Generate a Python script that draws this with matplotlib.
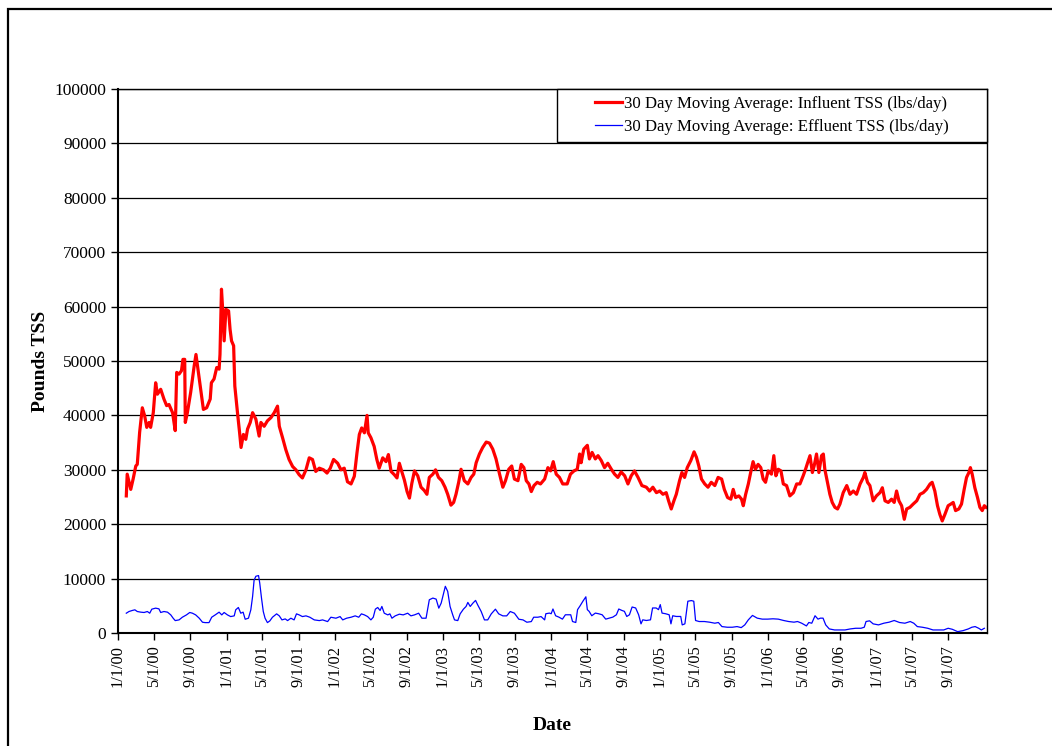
import numpy as np
import pandas as pd
import matplotlib
matplotlib.use("Agg")
import matplotlib.pyplot as plt
from matplotlib.patches import Rectangle

# days after 1/1/00 and 30 day moving averages (lbs/day)
influent_day = [28, 31, 43, 51, 60, 65, 73, 82, 90, 97,
                105, 110, 119, 127, 133, 144, 155, 164, 172, 184,
                193, 198, 206, 214, 219, 225, 227, 234, 245, 257,
                263, 274, 288, 299, 311, 315, 324, 333, 341, 344,
                349, 353, 358, 364, 373, 378, 383, 390, 394, 403,
                410, 415, 423, 431, 437, 446, 454, 465, 476, 482,
                493, 504, 516, 527, 538, 544, 555, 566, 577, 589,
                600, 611, 622, 634, 645, 656, 667, 679, 693, 705,
                716, 727, 741, 752, 763, 774, 786, 797, 806, 814,
                822, 831, 840, 844, 853, 864, 873, 881, 893, 904,
                912, 921, 932, 941, 949, 957, 966, 975, 983, 991,
                1000, 1011, 1022, 1033, 1042, 1050, 1062, 1071, 1081, 1092,
                1103, 1112, 1123, 1132, 1140, 1149, 1157, 1168, 1180, 1191,
                1200, 1208, 1219, 1230, 1242, 1253, 1264, 1275, 1287, 1298,
                1307, 1318, 1328, 1337, 1349, 1360, 1369, 1377, 1386, 1394,
                1403, 1414, 1425, 1439, 1450, 1459, 1468, 1478, 1489, 1500,
                1515, 1526, 1538, 1549, 1557, 1562, 1571, 1583, 1590, 1599,
                1610, 1619, 1630, 1641, 1652, 1664, 1675, 1686, 1697, 1709,
                1720, 1731, 1742, 1754, 1767, 1782, 1793, 1804, 1816, 1827,
                1838, 1849, 1857, 1866, 1875, 1883, 1894, 1902, 1911, 1920,
                1932, 1943, 1951, 1959, 1968, 1979, 1990, 2001,
                2013, 2024, 2036, 2045, 2056, 2067, 2075, 2083, 2094, 2103,
                2109, 2117, 2126, 2135, 2142, 2150, 2159, 2168, 2176, 2184,
                2193, 2204, 2212, 2219, 2227, 2236, 2244, 2255, 2266, 2278,
                2289, 2300, 2311, 2319, 2326, 2334, 2342, 2348, 2356, 2364,
                2373, 2379, 2384, 2393, 2401, 2409, 2418, 2427, 2435, 2446,
                2458, 2469, 2480, 2491, 2503, 2514,
                2519, 2528, 2536, 2547, 2558, 2570, 2578, 2587, 2598, 2609,
                2618, 2626, 2634, 2643, 2652, 2660, 2671, 2682, 2694, 2705,
                2716, 2727, 2739, 2746, 2755, 2764, 2772, 2780, 2789, 2800,
                2809, 2817, 2825, 2836, 2845, 2854, 2862, 2870, 2875, 2881,
                2890, 2899, 2907, 2915, 2922, 2928]
influent_tss = [25200, 29200, 26400, 28300, 30700, 31000, 36900, 41400, 39900, 37800,
                38700, 37800, 40500, 46000, 43900, 44800, 43000, 41800, 42000, 40500,
                37200, 47900, 47600, 48200, 50300, 50300, 38700, 40500, 44200, 49100,
                51200, 46700, 41100, 41400, 43000, 46000, 46700, 48800, 48500, 51200,
                63200, 59500, 53700, 59500, 59200, 55800, 53700, 52800, 45400, 40500,
                36900, 34100, 36500, 35600, 37500, 38700, 40500, 39300, 36200, 38700,
                38000, 39000, 39600, 40500, 41700, 38000, 35900, 33700, 31900, 30600,
                30000, 29100, 28500, 30000, 32200, 31900, 29700, 30300, 30000, 29400,
                30300, 31900, 31200, 30000, 30300, 27800, 27400, 28800, 33100, 36500,
                37700, 36800, 40000, 36800, 35900, 34300, 31900, 30300, 32200, 31500,
                32800, 29700, 29100, 28500, 31200, 29700, 28100, 26000, 24800, 27500,
                29800, 28900, 26800, 26200, 25500, 28600, 29200, 30000, 28600, 28000,
                26800, 25500, 23500, 24000, 25500, 27700, 30100, 28000, 27400, 28600,
                29200, 31300, 32900, 34100, 35100, 34900, 33800, 32000, 29200, 26800,
                28000, 30100, 30700, 28300, 28000, 31000, 30400, 28000, 27400, 26000,
                27100, 27700, 27400, 28300, 30400, 29800, 31500, 29200, 28600, 27400,
                27400, 29200, 29800, 30100, 32900, 31300, 33800, 34500, 32000, 33200,
                32000, 32600, 31700, 30400, 31200, 30100, 29200, 28600, 29600, 28900,
                27400, 28900, 29800, 28600, 27100, 26800, 26100, 26800, 25800, 26100,
                25500, 25800, 24300, 22800, 24300, 25500, 28000, 29500, 28600, 30400,
                31700, 33300, 32300, 30700, 28300, 27400, 26800, 27700,
                27100, 28600, 28300, 26400, 24900, 24600, 26400, 24900, 25200, 24600,
                23400, 25500, 27400, 29800, 31500, 30100, 31000, 30400, 28300, 27700,
                29800, 29200, 32600, 28900, 30100, 29800, 27400, 27100, 25200, 25800,
                27400, 27400, 28900, 30100, 31300, 32600, 29500, 30700, 32900, 29500,
                32600, 32900, 30100, 27700, 25500, 24000, 23100, 22800, 23700, 25800,
                27100, 25500, 26100, 25500, 27400, 28600,
                29500, 27700, 27100, 24300, 25200, 25800, 26700, 24300, 24000, 24600,
                24000, 26100, 24300, 23400, 20900, 22800, 23100, 23700, 24300, 25500,
                25800, 26400, 27400, 27700, 26100, 23400, 21800, 20600, 21800, 23400,
                23700, 24000, 22500, 22800, 23700, 26400, 28600, 29500, 30400, 29200,
                26700, 24900, 23100, 22500, 23400, 23100]

effluent_day = [28, 37, 48, 57, 65, 77, 88, 99, 107, 114,
                127, 138, 144, 155, 167, 178, 186, 193, 206, 217,
                231, 242, 251, 262, 274, 285, 294, 307, 316, 328,
                341, 350, 358, 369, 380, 392, 397, 406, 414, 422,
                429, 440, 448, 454, 459, 465, 474, 478, 484, 490,
                496, 504, 512, 521, 535, 544, 553, 564, 572, 583,
                594, 602, 611, 622, 634, 647, 662, 679, 690, 707,
                718, 735, 749, 758, 771, 786, 800, 812, 821, 831,
                842, 853, 861, 868, 876, 884, 890, 898, 910, 917,
                924, 935, 949, 962, 977, 988, 1000, 1014, 1025, 1039,
                1050, 1062, 1073, 1082, 1090, 1097, 1104, 1112, 1120, 1129,
                1135, 1146, 1154, 1165, 1174, 1180, 1188, 1197, 1206, 1213,
                1225, 1236, 1247, 1259, 1273, 1284, 1298, 1311, 1323, 1337,
                1352, 1366, 1379, 1394, 1402, 1416, 1427, 1439,
                1443, 1455, 1461, 1467, 1476, 1487, 1499, 1509, 1527, 1533,
                1544, 1550, 1559, 1568, 1578, 1583, 1589, 1598, 1610, 1621,
                1633, 1645, 1657, 1669, 1681, 1689, 1699, 1708, 1716, 1725,
                1734, 1746, 1756, 1764, 1770, 1782, 1796, 1803, 1815, 1823,
                1829, 1835, 1847, 1859, 1865, 1871, 1883, 1898, 1903, 1912,
                1922, 1934, 1942, 1948, 1960, 1978, 1995, 2013, 2025, 2037,
                2055, 2072, 2088, 2102, 2114, 2126, 2140, 2156, 2173, 2191,
                2209, 2227, 2245, 2262, 2280, 2292, 2306, 2322, 2330, 2340,
                2351, 2361, 2369, 2378, 2387, 2399, 2417, 2434, 2452, 2470,
                2488, 2506, 2517, 2523, 2535, 2547, 2565, 2583, 2601, 2618,
                2636, 2654, 2672, 2684, 2696, 2713, 2731, 2749, 2767, 2785,
                2800, 2814, 2832, 2850, 2868, 2880, 2891, 2903, 2912, 2922]
effluent_tss = [3640, 3950, 4140, 4260, 3950, 3830, 3770, 3950, 3640, 4380,
                4570, 4440, 3770, 3950, 3830, 3330, 2720, 2280, 2410, 2900,
                3330, 3770, 3640, 3330, 2720, 1980, 1910, 1910, 2900, 3330,
                3830, 3330, 3770, 3330, 3020, 3150, 4260, 4690, 3640, 3830,
                2530, 2720, 4260, 6730, 9690, 10430, 10560, 9200, 6420, 3950,
                2720, 1910, 2220, 2900, 3520, 3150, 2410, 2590, 2280, 2720,
                2410, 3520, 3330, 3020, 3150, 2900, 2410, 2280, 2410, 2100,
                2900, 2720, 3020, 2410, 2720, 2900, 3150, 2900, 3520, 3330,
                3020, 2410, 2900, 4380, 4690, 4140, 4880, 3640, 3330, 3520,
                2720, 3150, 3460, 3330, 3640, 3150, 3330, 3640, 2720, 2720,
                6110, 6420, 6230, 4570, 5490, 7040, 8580, 7650, 4880, 3330,
                2410, 2280, 3520, 4380, 4880, 5620, 4880, 5490, 5990, 5190,
                3950, 2410, 2410, 3520, 4380, 3520, 3150, 3150, 3950, 3640,
                2530, 2410, 1980, 2100, 2900, 2900, 3020, 2410,
                3540, 3660, 3540, 4410, 3170, 2920, 2550, 3350, 3350, 2110,
                1930, 4290, 5030, 5840, 6650, 4290, 3980, 3170, 3660, 3540,
                3350, 2550, 2730, 2920, 3350, 4410, 4160, 3980, 3040, 3350,
                4780, 4600, 3350, 1680, 2420, 2300, 2420, 4600, 4600, 4290,
                5220, 3660, 3540, 3350, 1680, 3170, 3040, 3040, 1490, 1680,
                5840, 5960, 5840, 2300, 2110, 2110, 1990, 1800, 1930, 1180,
                1060, 1060, 1180, 990, 1490, 2420, 3230, 2730, 2550, 2550,
                2610, 2550, 2300, 2110, 1990, 2110, 1800, 1300, 1930, 1800,
                3170, 2550, 2730, 2730, 1490, 750, 560, 560, 560, 750,
                870, 870, 1060, 2110, 2240, 1680, 1490, 1800, 1990, 2300,
                1930, 1800, 2110, 1800, 1180, 1060, 870, 560, 560, 560,
                870, 680, 250, 430, 750, 1060, 1180, 870, 560, 870]

start = pd.Timestamp("2000-01-01")
influent_date = start + pd.to_timedelta(influent_day, unit="D")
effluent_date = start + pd.to_timedelta(effluent_day, unit="D")

tick_dates = pd.date_range("2000-01-01", "2007-09-01", freq="4MS")
tick_labels = [f"{d.month}/{d.day}/{d.strftime('%y')}" for d in tick_dates]

plt.rcParams["font.family"] = ["Liberation Serif", "DejaVu Serif"]

fig = plt.figure(figsize=(10.52, 7.46), dpi=100)
ax = fig.add_axes([118 / 1052, 1 - 633 / 746, 869 / 1052, 544 / 746])

ax.yaxis.grid(True, color="black", linewidth=0.9)
ax.set_axisbelow(True)

ax.plot(influent_date, influent_tss, color="#ff0000", linewidth=2.3,
        label="30 Day Moving Average: Influent TSS (lbs/day)")
ax.plot(effluent_date, effluent_tss, color="#0000ff", linewidth=0.9,
        label="30 Day Moving Average: Effluent TSS (lbs/day)")

ax.set_xlim(start, start + pd.Timedelta(days=2931))
ax.set_ylim(0, 100000)
ax.set_yticks(np.arange(0, 100001, 10000))
ax.set_yticklabels([str(v) for v in range(0, 100001, 10000)], fontsize=12.5)
ax.set_xticks(tick_dates)
ax.set_xticklabels(tick_labels, rotation=90, fontsize=11.8)
ax.tick_params(axis="both", direction="out", length=5, width=1, color="black")

for s in ax.spines.values():
    s.set_color("black")
    s.set_linewidth(1.0)
ax.spines["left"].set_linewidth(1.5)
ax.spines["bottom"].set_linewidth(1.5)

ax.set_ylabel("Pounds TSS", fontsize=14, fontweight="bold", labelpad=4)
ax.set_xlabel("Date", fontsize=14, fontweight="bold", labelpad=22)

# legend box in the upper right corner of the plot
ax.add_patch(Rectangle((0.5052, 0.9026), 0.4948, 0.0974, transform=ax.transAxes,
                       facecolor="white", edgecolor="black", linewidth=1.0,
                       zorder=4, clip_on=False))
leg = fig.legend(loc="center", bbox_to_anchor=(772 / 1052, 1 - 115.5 / 746),
                 frameon=False, fontsize=12.1, handlelength=1.6,
                 handletextpad=0.15, labelspacing=0.4)
leg.set_zorder(5)

# outer chart border
fig.add_artist(Rectangle((7.5 / 1052, -0.1), 2, 1.1 - 8.5 / 746,
                         transform=fig.transFigure, facecolor="none",
                         edgecolor="black", linewidth=1.6))

plt.savefig("out.png", dpi=100)
